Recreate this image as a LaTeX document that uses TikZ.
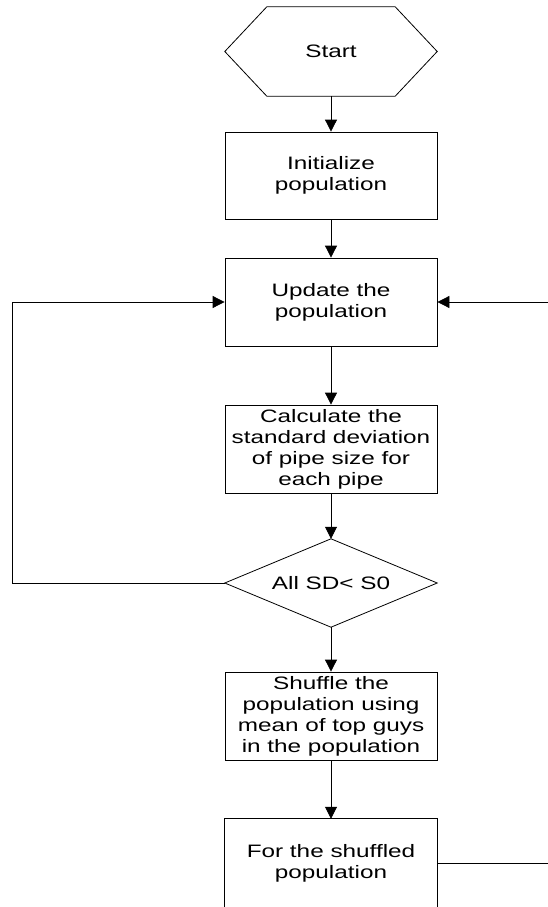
\documentclass[tikz,border=0pt]{standalone}
\usepackage{fontspec}
\setmainfont{Liberation Sans}[FakeStretch=1.35]
\usetikzlibrary{arrows.meta}

\begin{document}
\begin{tikzpicture}[x=1pt, y=-1pt,
  every node/.style={font=\fontsize{18}{21}\selectfont, align=center, inner sep=0pt},
  flowbox/.style={draw, line width=0.8pt, minimum width=212pt, minimum height=88pt},
  plainbox/.style={minimum width=212pt, minimum height=88pt},
  link/.style={line width=0.8pt},
  arrowlink/.style={line width=0.8pt, -{Triangle[width=12pt,length=12pt]}}]

  \useasboundingbox (0,0) rectangle (548,907);

  % terminal (hexagon)
  \node[plainbox, minimum height=89pt] (start) at (331,51.5) {Start};
  \draw[link] ([xshift=42pt]start.north west) -- ([xshift=-42pt]start.north east)
    -- (start.east) -- ([xshift=-42pt]start.south east)
    -- ([xshift=42pt]start.south west) -- (start.west) -- cycle;

  % process boxes
  \node[flowbox, minimum height=87pt] (init) at (331,175.5) {Initialize\\population};
  \node[flowbox] (update) at (331,302) {Update the\\population};
  \node[flowbox] (calc) at (331,449) {Calculate the\\standard deviation\\of pipe size for\\each pipe};

  % decision (diamond)
  \node[plainbox] (test) at (331,583) {All SD< S0};
  \draw[link] (test.north) -- (test.east) -- (test.south) -- (test.west) -- cycle;

  \node[flowbox] (shuffle) at (331,716) {Shuffle the\\population using\\mean of top guys\\in the population};

  % last box, running off the page
  \node[plainbox] (last) at (331,863) {For the shuffled\\population};
  \draw[link] (last.south west) -- (last.north west) -- (last.north east) -- (last.south east);

  % main flow
  \draw[arrowlink] (start.south) -- (init.north);
  \draw[arrowlink] (init.south) -- (update.north);
  \draw[arrowlink] (update.south) -- (calc.north);
  \draw[arrowlink] (calc.south) -- (test.north);
  \draw[arrowlink] (test.south) -- (shuffle.north);
  \draw[arrowlink] (shuffle.south) -- (last.north);

  % loop back to the update step
  \coordinate (loopL) at (12,302);
  \draw[arrowlink] (test.west) -| (loopL) -- (update.west);

  % returns entering from the right
  \coordinate (inR) at (548,302);
  \draw[arrowlink] (inR) -- (update.east);
  \coordinate (outR) at (548,863);
  \draw[link] (last.east) -- (outR);
\end{tikzpicture}
\end{document}
